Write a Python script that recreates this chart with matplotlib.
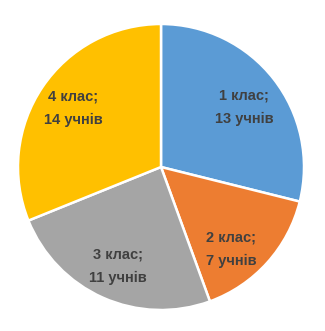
import matplotlib
matplotlib.use("Agg")
import matplotlib.pyplot as plt

classes = ["1 клас", "2 клас", "3 клас", "4 клас"]
pupils = [13, 7, 11, 14]
colors = ["#5B9BD5", "#ED7D31", "#A5A5A5", "#FFC000"]

labels = [f"{c};\n{n} учнів" for c, n in zip(classes, pupils)]

fig = plt.figure(figsize=(3.25, 3.31), dpi=100)
ax = fig.add_axes([18 / 325, 21 / 331, 286 / 325, 286 / 331])

wedges, texts = ax.pie(pupils, labels=labels, colors=colors, startangle=90,
                       counterclock=False, labeldistance=0.74,
                       wedgeprops=dict(edgecolor="white", linewidth=1.8),
                       textprops=dict(color="#404040", fontsize=10.5,
                                      fontweight="bold", family="Liberation Sans",
                                      ha="center", va="center", linespacing=1.85))
# small nudges so the labels sit where Excel put them
nudges = [(0.0, -0.04), (-0.06, -0.08), (0.0, -0.02), (0.0, 0.0)]
for t, (dx, dy) in zip(texts, nudges):
    x, y = t.get_position()
    t.set_position((x + dx, y + dy))

ax.set_xlim(-1, 1)
ax.set_ylim(-1, 1)
ax.set_aspect("auto")
ax.axis("off")

fig.savefig("out.png", dpi=100)
